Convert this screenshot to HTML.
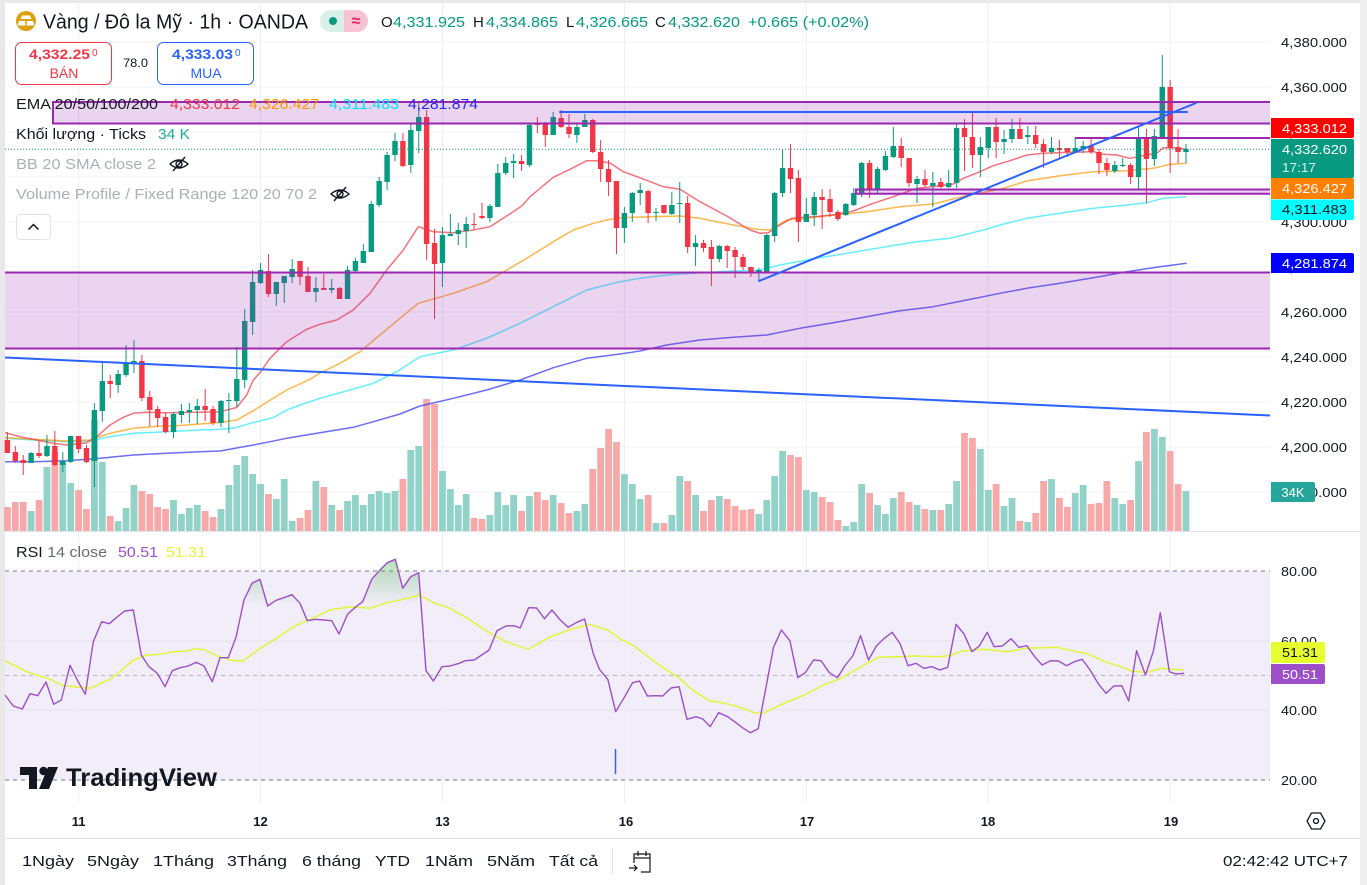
<!DOCTYPE html>
<html><head><meta charset="utf-8">
<style>
html,body{margin:0;padding:0;background:#fff;width:1367px;height:885px;overflow:hidden}
svg{display:block;font-family:"Liberation Sans","Noto Sans CJK SC",sans-serif}
</style></head>
<body>
<svg id="s" width="1367" height="885" viewBox="0 0 1367 885" xmlns="http://www.w3.org/2000/svg">
<defs>
<linearGradient id="gf" x1="0" y1="555" x2="0" y2="605" gradientUnits="userSpaceOnUse"><stop offset="0" stop-color="#4caf50" stop-opacity="0.45"/><stop offset="1" stop-color="#4caf50" stop-opacity="0"/></linearGradient>
<clipPath id="cp"><rect x="5" y="540" width="1265" height="65"/></clipPath>
<clipPath id="mc"><rect x="5" y="3" width="1265" height="528"/></clipPath>
</defs>
<rect x="0" y="0" width="1367" height="885" fill="#fff"/>
<!-- frame -->
<rect x="0" y="0" width="5" height="885" fill="#e9e9ea"/>
<rect x="0" y="0" width="1367" height="3" fill="#e9e9ea"/>
<rect x="1360" y="0" width="7" height="885" fill="#efeff0"/>

<!-- grid -->
<g stroke="#f0f3fa" stroke-width="1">
<line x1="5" y1="42" x2="1270" y2="42"/><line x1="5" y1="87" x2="1270" y2="87"/><line x1="5" y1="132" x2="1270" y2="132"/><line x1="5" y1="177" x2="1270" y2="177"/><line x1="5" y1="222" x2="1270" y2="222"/><line x1="5" y1="267" x2="1270" y2="267"/><line x1="5" y1="312" x2="1270" y2="312"/><line x1="5" y1="357" x2="1270" y2="357"/><line x1="5" y1="402" x2="1270" y2="402"/><line x1="5" y1="447" x2="1270" y2="447"/><line x1="5" y1="492" x2="1270" y2="492"/>
</g>

<!-- RSI band -->
<rect x="5" y="571" width="1265" height="209" fill="#f2eef9"/>
<g stroke="#e4e0ee" stroke-width="1"><line x1="5" y1="641" x2="1270" y2="641"/><line x1="5" y1="710" x2="1270" y2="710"/></g>

<g stroke="#eceef3" stroke-width="1">
<line x1="78.6" y1="3" x2="78.6" y2="803"/><line x1="260.5" y1="3" x2="260.5" y2="803"/><line x1="442.5" y1="3" x2="442.5" y2="803"/><line x1="624.4" y1="3" x2="624.4" y2="803"/><line x1="806.3" y1="3" x2="806.3" y2="803"/><line x1="988.2" y1="3" x2="988.2" y2="803"/><line x1="1170.1" y1="3" x2="1170.1" y2="803"/>
</g>
<g stroke-dasharray="4,4" stroke-width="1">
<line x1="5" y1="571" x2="1270" y2="571" stroke="#787b86"/>
<line x1="5" y1="675.5" x2="1270" y2="675.5" stroke="#b4b2bd"/>
<line x1="5" y1="780" x2="1270" y2="780" stroke="#787b86"/>
</g>

<!-- separators -->
<line x1="5" y1="531.5" x2="1360" y2="531.5" stroke="#e0e3eb" stroke-width="1"/>
<line x1="5" y1="838.5" x2="1360" y2="838.5" stroke="#e0e3eb" stroke-width="1"/>

<g id="vol"></g>

<!-- EMAs -->
<g fill="none" stroke-width="1.5" stroke-linejoin="round" clip-path="url(#mc)">
<polyline stroke="#3b3bf0" stroke-opacity="0.75" points="5,461.7 33.3,461.7 66.7,460.7 100,458.3 133.3,455 166.7,453.3 200,451.7 220,451 253.3,445 286.7,438.3 320,432.7 353.3,427.3 373.3,421.7 400,414 420,406 453.3,398.3 486.7,390 520,380 553.3,367.7 586.7,358.3 620,354 640,351 666.7,345 700,340 733.3,337.3 766.7,335 800,328.3 833.3,322.7 866.7,316.7 900,310.7 933.3,306.7 966.7,300 1000,293.3 1026.7,288.3 1060,283.3 1093.3,277.7 1126.7,271.7 1160,266.7 1186.7,263.3"/>
<polyline stroke="#33e8ff" stroke-opacity="0.75" points="5,438.3 33.3,440 66.7,441.7 90,441 110,436.7 133.3,433.3 166.7,431.7 200,430 220,429.3 233.3,428.3 253.3,422.5 273.3,417.7 286.7,410 300,405 320,398.3 353.3,389 373.3,383.3 396.7,371.7 420,356.7 453.3,350 486.7,338.3 520,323.3 553.3,306.7 586.7,290 620,281.7 640,278.3 666.7,275 700,272.7 733.3,271 760,270 780,265 816.7,258.3 866.7,250 916.7,241.7 950,238.3 983.3,230 1000,225 1026.7,218.3 1060,213.3 1093.3,208.3 1126.7,205 1146.7,202.7 1163.3,198.3 1186.7,196.7"/>
<polyline stroke="#ff9800" stroke-opacity="0.7" points="5,437.7 33.3,439.3 66.7,441 90,440 110,433.3 133.3,428.3 150,426.7 183.3,425.3 216.7,422.7 236.7,420 253.3,410.7 266.7,402.3 286.7,390 310,379.3 320,373 340,363.3 360,351.7 376.7,337.7 400,318.3 418.3,303.3 453.3,293.3 486.7,281.7 506.7,270 526.7,258.3 553.3,241.7 573.3,230 593.3,223.3 606.7,220 620,217.7 650,216.7 680,216 700,218.3 733.3,225 756.7,229.3 770,230 786.7,220 806.7,218.3 833.3,215 866.7,211.7 900,206.7 933.3,204 966.7,195.5 1000,189.3 1026.7,181 1060,175.7 1093.3,171.7 1126.7,170.7 1153.3,168.3 1170,164.3 1186.7,163.3"/>
<polyline stroke="#f23645" stroke-opacity="0.7" points="5,432.7 20,436.7 36.7,440 53.3,443.3 66.7,445 86.7,442.7 96.7,436.7 110,425 123.3,417.3 133.3,413.3 146.7,412.3 166.7,412.7 200,412.3 220,411.7 236.7,407.5 246.7,395 253.3,380 260,372.7 270,358.3 286.7,341.7 306.7,329.3 320,324.3 336.7,320 353.3,310 370,293.3 386.7,270 403.3,250 418.3,226.7 433.3,231.7 453.3,232.7 473.3,230 490,226.7 506.7,216 521.7,206 530,196.7 553.3,177.3 570,169.3 586.7,160.7 596.7,160.7 610,163 623.3,171.7 640,177.8 663.3,186.7 680,189.3 700,201.7 726.7,216 750,230 760,233.3 768.3,232.7 780,225 791.7,218.3 813.3,216.7 833.3,215 853.3,211 873.3,203.3 893.3,196.7 916.7,188.3 933.3,186.7 953.3,184 963.3,178.3 980,171.7 993.3,165.7 1010,160.7 1026.7,155 1043.3,153.3 1070,152.3 1093.3,151.7 1103.3,154.3 1116.7,155 1130,158.3 1146.7,155 1156.7,153.3 1163.3,147.7 1173.3,147.7 1186.7,149.3"/>
</g>

<g id="cdl"></g>

<!-- zones -->
<g clip-path="url(#mc)">
<rect x="53" y="102" width="1220" height="21.5" fill="#9c27b0" fill-opacity="0.2"/>
<rect x="0" y="272.5" width="1275" height="76" fill="#9c27b0" fill-opacity="0.2"/>
<rect x="856" y="189.5" width="420" height="4.3" fill="#9c27b0" fill-opacity="0.2"/>
<g stroke="#9c27b0" stroke-width="2" fill="none">
<path d="M1272,102 H53 V123.5 H1272"/>
<line x1="0" y1="272.5" x2="1272" y2="272.5"/>
<line x1="0" y1="348.5" x2="1272" y2="348.5"/>
<path d="M1272,189.5 H856 V193.8 H1272"/>
<line x1="1075" y1="138" x2="1272" y2="138"/>
</g>
<g stroke="#2962ff" stroke-width="2" stroke-linecap="round">
<line x1="560" y1="112" x2="1187" y2="112"/>
<line x1="759" y1="281" x2="1196" y2="103"/>
<line x1="0" y1="357.3" x2="1272" y2="415.6"/>
</g>
<line x1="5" y1="149.3" x2="1270" y2="149.3" stroke="#089981" stroke-width="1" stroke-dasharray="1,2"/>
</g>

<!-- RSI -->
<polygon id="rfill" fill="url(#gf)" clip-path="url(#cp)" points=""/>
<polyline fill="none" stroke="#e2f53a" stroke-width="1.5" stroke-linejoin="round" points="5,660.7 26.7,671.7 40,676 50,679.3 61.7,685 73.3,686.7 90,688.3 110,679.3 120,671.7 133.3,660 146.7,655 160,654.3 173.3,651.7 186.7,651 196.7,648.3 205,650 216.7,656 233.3,660.7 243.3,660.7 260,648.3 276.7,638.3 293.3,626.7 310,619.3 330,610 350,606.7 370,608.3 386.7,602.7 403.3,599.3 419.3,595 433.3,602.7 450,608.3 469,619.3 487.5,631.7 506,641.7 528.1,649.3 550.8,636.7 571.9,629 589.3,624.3 607.8,630 622.1,640 632.6,645 645.8,655 661.6,666.7 677.5,676.7 693.3,690.7 710.2,701 725,703.3 738.2,706.7 754,712.7 763,713.3 780.4,705 804.1,695 825.2,684.3 841.1,678.3 862.2,666 878,657.3 899.1,656.7 914.9,656 936,656.7 949.2,655.7 962.4,651 983.5,649.3 1007.3,651.7 1025.8,648.3 1057.4,647.3 1075.9,651.7 1086.4,653.3 1104.9,661.7 1120.7,666.7 1131.3,671 1147.1,672.7 1160.3,668.3 1184.1,670.3"/>
<polyline id="rsi" fill="none" stroke="#9c4fc9" stroke-width="1.4" stroke-linejoin="round" points="5,695 13.3,706 22.3,709 30,693.7 37.7,695.7 46,682 53.7,704.3 61.3,700 70,665.3 77.3,680 85.3,694.3 93.3,641.7 101.7,621.7 109.3,623.7 116.7,617.3 124.7,611 133.3,610 141.3,655 149,666.7 157.3,673.3 165,686.7 172.3,670.7 180.3,667.7 188.3,666 196.3,662.3 204,666 212.3,681.7 220,657.7 228.3,657.7 236,637.3 244,600 252,583.3 260,579.3 267.7,606 276,600.3 284,597.7 292,594.7 300,603.3 307.3,620.7 315.7,619.3 323.3,620 331.7,620.7 339,634 347.7,614 355.3,607.3 362.7,601.7 371.7,579.3 379.3,570.7 387.3,562.7 395.3,559.3 402.7,588.3 410.7,576.7 418.7,572.7 426,670.7 433.3,681 442,666.7 450,666 459.3,663.3 465.3,660.7 474.3,660 489.1,650 497,630.7 506,626 513.9,625.7 520.2,628 528.7,607.7 536.6,608 544.5,618.7 551.9,610 560.3,620 568.2,627.3 576.1,622.7 584.6,619 593,652.7 599.4,669.3 607.8,679.3 615.7,711.7 624.7,696.7 632.6,682.7 639.5,681 647.4,696 655.3,695.7 662.7,696 671.1,688 679.1,686.7 687,719.3 695.9,716.7 702.8,719 710.2,726.7 718.6,712.7 727.6,716.7 735.5,722.3 742.4,727.7 750.3,732.7 758.2,728.7 766.1,686.7 773.5,647.3 781.4,630 789.9,640.7 797.8,677.7 805.2,672.7 813.6,660 821,660.7 829.4,672.7 837.4,677.7 844.7,666 852.7,656 860.6,635.7 868.5,660 876.4,646 884.3,638.3 892.2,632.3 900.2,644 908.1,665.7 916,663.3 923.9,668.3 931.8,666.7 939.7,670 947.7,667.3 956.1,624.3 964,634 972,651.7 979.3,646 987.2,632.3 994.1,646.7 1002.5,646 1011,638.7 1018.9,647.3 1026.8,645.7 1034.7,656.7 1042.1,665 1050.5,660.7 1058.5,661 1066.4,665.7 1074.3,661.7 1082.2,659.3 1090.1,670 1098,683.3 1106,693.3 1113.9,686 1121.8,685.7 1128.7,701 1136.6,650.7 1145.5,675 1153.5,650.7 1160.3,612.7 1169.3,671.7 1176.1,674 1184.1,673.3"/>
<line x1="615.5" y1="749" x2="615.5" y2="774" stroke="#2962ff" stroke-width="1.5"/>

<!-- TradingView logo -->
<g fill="#131722">
<path d="M20,767 H37 V789 H29 V775 H20 Z"/>
<circle cx="43.5" cy="771" r="4.2"/>
<path d="M48,767 H58 L49,789 H39 Z"/>
<text x="66" y="786" font-size="25" font-weight="bold" textLength="151" lengthAdjust="spacingAndGlyphs">TradingView</text>
</g>

<!-- Header -->
<circle cx="26" cy="21" r="10" fill="#dca10f"/>
<path d="M22,15.5 H30 L31.5,19 H20.5 Z M17.5,25.5 L19,21 H25 L25.5,25.5 Z M26.5,25.5 L27,21 H33 L34.5,25.5 Z" fill="#fff"/>
<text x="43" y="28.5" font-size="20.5" fill="#131722" textLength="265" lengthAdjust="spacingAndGlyphs">Vàng / Đô la Mỹ · 1h · OANDA</text>
<path d="M331,10 H344 V32 H331 A11,11 0 0 1 331,10 Z" fill="#d8efea"/>
<path d="M344,10 H357 A11,11 0 0 1 357,32 H344 Z" fill="#f7c4d4"/>
<circle cx="333" cy="21" r="4" fill="#089981"/>
<text x="356" y="26" font-size="16" fill="#e91e63" text-anchor="middle" font-weight="bold">≈</text>
<g font-size="15">
<text x="381" y="27" fill="#131722">O</text><text x="393" y="27" fill="#089981" textLength="72" lengthAdjust="spacingAndGlyphs">4,331.925</text>
<text x="473" y="27" fill="#131722">H</text><text x="486" y="27" fill="#089981" textLength="72" lengthAdjust="spacingAndGlyphs">4,334.865</text>
<text x="566" y="27" fill="#131722">L</text><text x="576" y="27" fill="#089981" textLength="72" lengthAdjust="spacingAndGlyphs">4,326.665</text>
<text x="655" y="27" fill="#131722">C</text><text x="668" y="27" fill="#089981" textLength="72" lengthAdjust="spacingAndGlyphs">4,332.620</text>
<text x="748" y="27" fill="#089981" textLength="121" lengthAdjust="spacingAndGlyphs">+0.665 (+0.02%)</text>
</g>

<!-- Sell / Buy -->
<rect x="15.5" y="42.5" width="96" height="42" rx="6" fill="#fff" stroke="#f23645"/>
<text x="29" y="59" font-size="14" font-weight="bold" fill="#f23645" textLength="61" lengthAdjust="spacingAndGlyphs">4,332.25</text>
<text x="92" y="56" font-size="10" fill="#f23645">0</text>
<text x="64" y="78" font-size="14" fill="#f23645" text-anchor="middle">BÁN</text>
<text x="123" y="67" font-size="12" fill="#131722" textLength="25" lengthAdjust="spacingAndGlyphs">78.0</text>
<rect x="157.5" y="42.5" width="96" height="42" rx="6" fill="#fff" stroke="#2962ff"/>
<text x="172" y="59" font-size="14" font-weight="bold" fill="#2962ff" textLength="61" lengthAdjust="spacingAndGlyphs">4,333.03</text>
<text x="235" y="56" font-size="10" fill="#2962ff">0</text>
<text x="206" y="78" font-size="14" fill="#2962ff" text-anchor="middle">MUA</text>

<!-- Legends -->
<g font-size="15">
<text x="16" y="109" fill="#131722" textLength="142" lengthAdjust="spacingAndGlyphs">EMA 20/50/100/200</text>
<text x="170" y="109" fill="#f23645" textLength="70" lengthAdjust="spacingAndGlyphs">4,333.012</text>
<text x="249" y="109" fill="#ff9800" textLength="70" lengthAdjust="spacingAndGlyphs">4,326.427</text>
<text x="329" y="109" fill="#00e5ff" textLength="70" lengthAdjust="spacingAndGlyphs">4,311.483</text>
<text x="408" y="109" fill="#2929f5" textLength="70" lengthAdjust="spacingAndGlyphs">4,281.874</text>
<text x="16" y="139" fill="#131722" textLength="130" lengthAdjust="spacingAndGlyphs">Khối lượng · Ticks</text>
<text x="158" y="139" fill="#22ab94" textLength="32" lengthAdjust="spacingAndGlyphs">34 K</text>
<text x="16" y="169" fill="#acafb8" textLength="140" lengthAdjust="spacingAndGlyphs">BB 20 SMA close 2</text>
<text x="16" y="199" fill="#acafb8" textLength="301" lengthAdjust="spacingAndGlyphs">Volume Profile / Fixed Range 120 20 70 2</text>
<text x="16" y="557" fill="#131722" textLength="91" lengthAdjust="spacingAndGlyphs">RSI <tspan fill="#6a6d78">14 close</tspan></text>
<text x="118" y="557" fill="#9c4fc9" textLength="40" lengthAdjust="spacingAndGlyphs">50.51</text>
<text x="166" y="557" fill="#e2f53a" textLength="40" lengthAdjust="spacingAndGlyphs">51.31</text>
</g>
<g fill="none" stroke="#131722" stroke-width="1.4">
<g transform="translate(179,164)"><path d="M-9,0 Q0,-8 9,0 Q0,8 -9,0 Z"/><circle r="3"/><line x1="-6" y1="7" x2="6" y2="-7"/></g>
<g transform="translate(340,194)"><path d="M-9,0 Q0,-8 9,0 Q0,8 -9,0 Z"/><circle r="3"/><line x1="-6" y1="7" x2="6" y2="-7"/></g>
</g>
<rect x="16.5" y="214.5" width="34" height="25" rx="4" fill="#fff" stroke="#e0e3eb"/>
<path d="M28.5,229.5 L33.5,224.5 L38.5,229.5" fill="none" stroke="#131722" stroke-width="1.5"/>

<!-- Price axis -->
<g font-size="13" fill="#131722">
<text x="1281" y="47" textLength="66" lengthAdjust="spacingAndGlyphs">4,380.000</text>
<text x="1281" y="92" textLength="66" lengthAdjust="spacingAndGlyphs">4,360.000</text>
<text x="1281" y="137" textLength="66" lengthAdjust="spacingAndGlyphs">4,340.000</text>
<text x="1281" y="182" textLength="66" lengthAdjust="spacingAndGlyphs">4,320.000</text>
<text x="1281" y="227" textLength="66" lengthAdjust="spacingAndGlyphs">4,300.000</text>
<text x="1281" y="272" textLength="66" lengthAdjust="spacingAndGlyphs">4,280.000</text>
<text x="1281" y="317" textLength="66" lengthAdjust="spacingAndGlyphs">4,260.000</text>
<text x="1281" y="362" textLength="66" lengthAdjust="spacingAndGlyphs">4,240.000</text>
<text x="1281" y="407" textLength="66" lengthAdjust="spacingAndGlyphs">4,220.000</text>
<text x="1281" y="452" textLength="66" lengthAdjust="spacingAndGlyphs">4,200.000</text>
<text x="1281" y="497" textLength="66" lengthAdjust="spacingAndGlyphs">4,180.000</text>
<text x="1281" y="576" textLength="36" lengthAdjust="spacingAndGlyphs">80.00</text>
<text x="1281" y="646" textLength="36" lengthAdjust="spacingAndGlyphs">60.00</text>
<text x="1281" y="715" textLength="36" lengthAdjust="spacingAndGlyphs">40.00</text>
<text x="1281" y="785" textLength="36" lengthAdjust="spacingAndGlyphs">20.00</text>
</g>
<g font-size="13">
<path d="M1271,118 H1352 a2,2 0 0 1 2,2 V136 a2,2 0 0 1 -2,2 H1271 Z" fill="#ff0000"/>
<text x="1282" y="133" fill="#fff" textLength="65" lengthAdjust="spacingAndGlyphs">4,333.012</text>
<path d="M1271,139 H1352 a2,2 0 0 1 2,2 V176 a2,2 0 0 1 -2,2 H1271 Z" fill="#089981"/>
<text x="1282" y="154" fill="#fff" textLength="65" lengthAdjust="spacingAndGlyphs">4,332.620</text>
<text x="1282" y="172" fill="#fff" fill-opacity="0.85" textLength="34" lengthAdjust="spacingAndGlyphs">17:17</text>
<path d="M1271,178 H1352 a2,2 0 0 1 2,2 V197 a2,2 0 0 1 -2,2 H1271 Z" fill="#ff7f00"/>
<text x="1282" y="193" fill="#fff" textLength="65" lengthAdjust="spacingAndGlyphs">4,326.427</text>
<path d="M1271,199.5 H1352 a2,2 0 0 1 2,2 V218 a2,2 0 0 1 -2,2 H1271 Z" fill="#00ffff"/>
<text x="1282" y="214" fill="#131722" textLength="65" lengthAdjust="spacingAndGlyphs">4,311.483</text>
<path d="M1271,253 H1352 a2,2 0 0 1 2,2 V271 a2,2 0 0 1 -2,2 H1271 Z" fill="#0000ff"/>
<text x="1282" y="268" fill="#fff" textLength="65" lengthAdjust="spacingAndGlyphs">4,281.874</text>
<path d="M1271,482 H1313 a2,2 0 0 1 2,2 V500 a2,2 0 0 1 -2,2 H1271 Z" fill="#26a69a"/>
<text x="1293" y="497" fill="#fff" text-anchor="middle">34K</text>
<path d="M1271,642 H1323 a2,2 0 0 1 2,2 V661 a2,2 0 0 1 -2,2 H1271 Z" fill="#e6ff2e"/>
<text x="1282" y="657" fill="#131722" textLength="36" lengthAdjust="spacingAndGlyphs">51.31</text>
<path d="M1271,664 H1323 a2,2 0 0 1 2,2 V682 a2,2 0 0 1 -2,2 H1271 Z" fill="#9c4fc9"/>
<text x="1282" y="679" fill="#fff" textLength="36" lengthAdjust="spacingAndGlyphs">50.51</text>
</g>

<!-- time axis -->
<g font-size="13" font-weight="bold" fill="#131722" text-anchor="middle">
<text x="78.6" y="826">11</text><text x="260.5" y="826">12</text><text x="442.5" y="826">13</text><text x="626" y="826">16</text><text x="807" y="826">17</text><text x="988" y="826">18</text><text x="1171" y="826">19</text>
</g>
<g transform="translate(1316,821)" fill="none" stroke="#131722" stroke-width="1.3">
<polygon points="-4.5,-8 4.5,-8 9,0 4.5,8 -4.5,8 -9,0"/><circle r="2.5"/>
</g>

<!-- bottom toolbar -->
<g font-size="15" fill="#131722">
<text x="22" y="866" textLength="52" lengthAdjust="spacingAndGlyphs">1Ngày</text>
<text x="87" y="866" textLength="52" lengthAdjust="spacingAndGlyphs">5Ngày</text>
<text x="153" y="866" textLength="61" lengthAdjust="spacingAndGlyphs">1Tháng</text>
<text x="227" y="866" textLength="60" lengthAdjust="spacingAndGlyphs">3Tháng</text>
<text x="302" y="866" textLength="59" lengthAdjust="spacingAndGlyphs">6 tháng</text>
<text x="375" y="866" textLength="35" lengthAdjust="spacingAndGlyphs">YTD</text>
<text x="425" y="866" textLength="48" lengthAdjust="spacingAndGlyphs">1Năm</text>
<text x="487" y="866" textLength="48" lengthAdjust="spacingAndGlyphs">5Năm</text>
<text x="549" y="866" textLength="49" lengthAdjust="spacingAndGlyphs">Tất cả</text>
<text x="1348" y="866" text-anchor="end" textLength="125" lengthAdjust="spacingAndGlyphs">02:42:42 UTC+7</text>
</g>
<line x1="612.5" y1="848" x2="612.5" y2="874" stroke="#e0e3eb"/>
<g fill="none" stroke="#131722" stroke-width="1.2">
<path d="M634,863 V854 H650 V872 H641"/><line x1="634" y1="858" x2="650" y2="858"/><line x1="638" y1="851" x2="638" y2="856"/><line x1="646" y1="851" x2="646" y2="856"/>
<path d="M629,868 H637 M634,865 L637,868 L634,871"/>
</g>

<script>
(function(){
var D="r,440,453,432,453,507 r,452,461,446,463,502 r,460,463,455,475,502 g,453,463,452,463,511 r,453,456,441,458,500 g,446,456,435,457,467 r,446,465,431,466,452 g,461,465,452,472,462 g,436,462,436,463,483 r,436,449,436,453,490 r,448,462,445,463,509 g,410,461,403,487,420 g,381,411,361,422,462 r,381,384,375,398,516 g,374,385,370,393,521 g,363,375,345,377,508 g,361,364,340,373,485 r,361,398,355,401,491 r,397,410,391,426,494 r,409,418,406,427,507 r,417,432,413,433,509 g,414,432,412,438,500 g,411,415,404,423,514 g,410,412,403,423,508 g,406,410,399,424,505 r,406,410,389,421,511 r,409,423,406,425,517 g,401,423,400,427,509 g,400,401,393,433,485 g,379,401,347,407,465 g,321,380,309,388,456 g,282,322,270,335,474 g,270,283,263,284,484 r,271,294,254,297,494 g,282,294,282,306,499 g,276,283,276,303,479 g,269,277,259,283,521 r,261,277,261,285,518 r,276,292,267,292,510 g,288,292,277,302,481 r,288,290,274,290,487 g,288,290,279,293,505 r,288,299,287,299,510 g,270,299,266,299,501 g,261,271,258,273,495 g,251,263,244,263,505 g,204,252,201,252,494 g,181,205,177,207,491 g,155,182,152,190,493 g,141,155,133,161,491 r,141,166,133,167,479 g,130,165,123,173,450 g,117,131,103,153,446 r,117,244,110,260,399 r,243,264,229,319,404 g,235,263,227,287,471 g,234,236,214,236,489 g,230,234,223,245,505 g,224,231,217,248,494 r,224,225,213,229,518 r,216,218,203,219,519 g,206,218,204,222,515 g,173,207,164,207,492 g,163,173,157,175,505 g,161,163,154,178,495 r,161,164,155,171,511 g,125,165,123,167,496 r,124,125,117,133,492 r,123,135,122,147,500 g,117,135,112,135,495 r,118,127,110,128,503 r,127,134,114,138,513 g,127,135,123,143,511 g,120,127,114,127,504 r,120,152,119,153,469 r,152,169,140,182,448 r,169,182,160,196,429 r,181,228,181,254,442 g,213,228,207,243,474 g,193,213,192,222,484 g,190,193,183,205,499 r,191,213,190,223,495 g,212,213,208,221,523 r,205,213,205,214,523 g,205,214,192,215,515 g,203,204,182,223,476 r,203,247,196,253,481 g,243,247,235,266,495 r,243,248,240,252,511 r,247,259,240,286,500 g,246,259,245,262,496 r,246,251,245,268,499 r,250,257,247,278,506 r,257,267,254,270,510 r,267,273,267,277,509 g,270,273,268,280,514 g,235,273,234,273,500 g,193,236,192,242,476 g,168,193,150,197,451 r,168,179,144,193,455 r,178,222,170,242,457 g,214,222,198,222,490 g,197,215,192,226,492 r,197,200,189,229,497 r,199,212,189,217,502 r,212,219,210,221,520 g,204,215,203,216,526 g,193,205,188,206,522 g,163,194,162,197,484 r,163,190,160,198,493 g,169,190,167,193,505 g,156,170,151,171,514 g,146,157,127,158,498 r,146,158,138,167,492 r,158,183,158,187,502 g,179,184,176,203,505 r,179,185,170,187,509 g,183,186,172,207,510 r,182,187,178,188,510 g,183,187,170,188,504 g,128,183,123,188,481 r,128,137,119,171,433 r,137,155,112,168,438 g,147,155,137,177,449 g,127,148,127,158,490 r,127,142,118,158,484 g,139,142,130,154,506 g,129,139,119,143,498 r,129,139,118,139,521 g,135,137,126,144,522 r,135,144,126,148,513 r,144,152,139,168,481 g,148,152,137,154,479 r,148,150,140,158,498 r,148,152,148,157,507 g,148,152,137,152,493 g,146,149,141,153,485 r,146,152,138,154,504 r,152,163,149,174,503 r,163,170,158,176,481 g,165,171,161,173,498 g,165,166,158,167,504 r,165,177,163,184,500 g,139,177,127,189,461 r,139,159,129,203,432 g,136,159,129,166,429 g,87,137,55,137,437 r,87,148,80,173,451 r,147,152,129,163,484 g,149,152,144,163,491";
var NS="http://www.w3.org/2000/svg";
var V=document.getElementById("vol"),C=document.getElementById("cdl");
function R(p,x,y,w,h,f){var e=document.createElementNS(NS,"rect");e.setAttribute("x",x);e.setAttribute("y",y);e.setAttribute("width",w);e.setAttribute("height",h);e.setAttribute("fill",f);p.appendChild(e);}
D.split(" ").forEach(function(r,i){
var a=r.split(","),g=a[0]=="g",col=g?"#089981":"#f23645",vc=g?"#92d2c9":"#f7a8a9";
var bt=+a[1],bb=+a[2],wt=+a[3],wb=+a[4],vt=+a[5],x=7.4+i*7.91;
R(V,(x-3.4).toFixed(2),vt,6.8,531-vt,vc);
R(C,(x-0.5).toFixed(2),wt,1,Math.max(wb-wt,1),col);
R(C,(x-2.7).toFixed(2),bt,5.4,Math.max(bb-bt,1),col);
});
var pts=document.getElementById("rsi").getAttribute("points");
document.getElementById("rfill").setAttribute("points","5,605 "+pts+" 1184.1,605");
})();
</script>
</svg>
</body></html>
